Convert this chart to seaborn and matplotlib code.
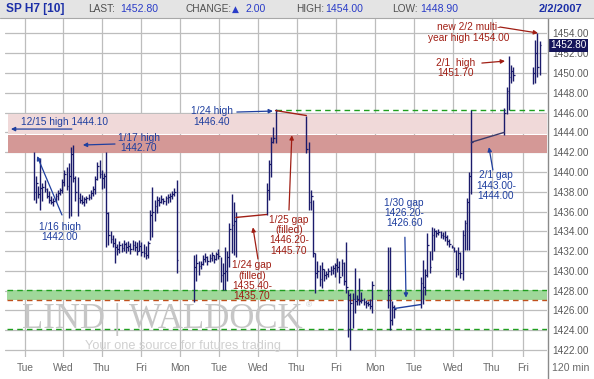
import numpy as np
import pandas as pd
import matplotlib
matplotlib.use("Agg")
import matplotlib.pyplot as plt
import matplotlib.transforms as mtransforms
from matplotlib.patches import Rectangle
from matplotlib.lines import Line2D
import seaborn as sns

# ---- data ----------------------------------------------------------------
# bars sit in equal time slots; idle_slots = empty slots before each run
idle_slots = [13, 7, 13, 13, 6, 11, 14, 8]
run_sizes = [66, 20, 5, 31, 4, 24, 5, 4]

highs = [
    # run 1 (1/16 - 1/19)
    1442.0, 1439.6, 1438.6, 1441.4, 1438.9, 1439.2, 1438.4, 1438.1, 1437.6, 1437.4,
    1437.9, 1438.2, 1438.4, 1439.3, 1440.2, 1440.5, 1440.9, 1442.5, 1442.7, 1439.6,
    1439.5, 1437.9, 1437.7, 1437.5, 1437.6, 1437.8, 1438.2, 1438.6, 1439.6, 1441.0,
    1441.2, 1440.2, 1439.9, 1442.0, 1436.0, 1434.0, 1433.6, 1433.3, 1432.7, 1433.0,
    1432.8, 1433.1, 1432.9, 1433.0, 1432.8, 1433.1, 1433.0, 1432.9, 1433.1, 1432.9,
    1432.7, 1432.5, 1433.0, 1436.2, 1438.5, 1437.2, 1437.6, 1437.5, 1437.7, 1437.4,
    1437.6, 1437.8, 1437.9, 1438.1, 1438.4, 1439.2,
    # run 2
    1431.6, 1431.7, 1431.0, 1431.0, 1431.6, 1431.8, 1431.5, 1431.7, 1431.9, 1431.6,
    1431.9, 1432.2, 1431.4, 1430.8, 1432.4, 1432.0, 1434.8, 1437.8, 1437.0, 1435.9,
    # run 3
    1438.9, 1441.2, 1443.5, 1444.5, 1446.4,
    # run 4
    1445.7, 1443.0, 1438.2, 1437.2, 1431.8, 1431.0, 1430.6, 1430.9, 1430.2, 1430.0,
    1430.3, 1430.5, 1430.6, 1430.8, 1431.3, 1431.0, 1431.2, 1430.9, 1432.9, 1428.1,
    1427.8, 1427.8, 1430.3, 1427.6, 1429.3, 1427.9, 1427.3, 1427.1, 1427.0, 1427.2,
    1429.0,
    # run 5
    1432.4, 1432.4, 1427.0, 1426.6,
    # run 6
    1429.4, 1431.1, 1430.2, 1433.8, 1432.0, 1434.4, 1434.3, 1434.1, 1434.2, 1434.0,
    1433.9, 1434.0, 1433.6, 1433.2, 1432.6, 1432.4, 1432.1, 1432.4, 1431.9, 1434.1,
    1435.1, 1437.4, 1440.0, 1446.3,
    # run 7
    1446.5, 1448.6, 1451.7, 1450.8, 1450.6,
    # run 8
    1450.6, 1453.3, 1454.0, 1453.2,
]

lows = [
    1437.2, 1436.9, 1437.4, 1436.2, 1437.1, 1438.0, 1437.4, 1436.9, 1436.8, 1436.6,
    1437.0, 1437.2, 1437.7, 1437.9, 1438.6, 1438.2, 1435.3, 1435.5, 1439.0, 1437.1,
    1435.5, 1436.9, 1436.8, 1436.6, 1436.9, 1437.2, 1437.3, 1437.6, 1437.8, 1439.2,
    1439.4, 1438.3, 1438.4, 1432.4, 1432.6, 1432.8, 1432.4, 1430.8, 1431.6, 1431.8,
    1431.9, 1432.0, 1431.8, 1432.0, 1431.7, 1432.1, 1432.0, 1431.6, 1432.0, 1431.5,
    1431.4, 1431.2, 1431.3, 1433.1, 1433.4, 1435.0, 1435.8, 1436.6, 1436.9, 1436.8,
    1436.7, 1436.9, 1437.0, 1437.3, 1437.6, 1429.8,
    1426.9, 1429.0, 1429.6, 1430.2, 1430.6, 1430.9, 1430.6, 1430.9, 1431.0, 1430.8,
    1431.1, 1431.2, 1428.9, 1428.1, 1428.1, 1429.0, 1430.4, 1431.8, 1431.6, 1431.4,
    1435.6, 1437.2, 1439.5, 1442.9, 1442.9,
    1441.9, 1436.2, 1436.2, 1431.4, 1427.8, 1429.3, 1428.5, 1428.3, 1429.0, 1429.2,
    1429.4, 1429.6, 1429.7, 1429.4, 1429.9, 1428.8, 1429.5, 1428.6, 1427.8, 1423.3,
    1422.0, 1424.2, 1425.7, 1426.6, 1426.6, 1426.8, 1426.6, 1426.3, 1426.5, 1426.2,
    1425.7,
    1426.3, 1424.0, 1424.5, 1425.2,
    1426.3, 1426.7, 1427.6, 1429.4, 1429.8, 1431.1, 1432.0, 1433.4, 1433.6, 1433.3,
    1433.2, 1433.0, 1432.6, 1432.4, 1432.3, 1431.9, 1429.4, 1429.6, 1429.3, 1429.1,
    1432.1, 1432.1, 1432.1, 1437.8,
    1443.7, 1445.9, 1446.3, 1449.0, 1449.2,
    1448.9, 1449.0, 1449.6, 1449.8,
]

closes = [
    1438.0, 1438.9, 1437.8, 1438.4, 1438.5, 1438.3, 1437.6, 1437.2, 1437.0, 1437.1,
    1437.6, 1437.9, 1438.2, 1439.0, 1439.8, 1438.6, 1439.6, 1441.8, 1439.4, 1438.0,
    1437.4, 1437.2, 1437.0, 1437.3, 1437.4, 1437.5, 1437.9, 1438.3, 1439.3, 1440.6,
    1439.8, 1439.4, 1439.6, 1435.8, 1433.6, 1433.2, 1432.8, 1432.4, 1432.2, 1432.6,
    1432.3, 1432.7, 1432.4, 1432.5, 1432.2, 1432.6, 1432.4, 1432.0, 1432.5, 1431.9,
    1431.8, 1431.6, 1432.8, 1435.6, 1436.0, 1436.6, 1437.2, 1437.0, 1437.3, 1437.1,
    1437.4, 1437.5, 1437.6, 1437.8, 1438.0, 1431.1,
    1430.4, 1430.8, 1430.5, 1430.7, 1431.2, 1431.4, 1431.0, 1431.3, 1431.6, 1431.2,
    1431.7, 1431.5, 1429.6, 1429.8, 1430.0, 1431.4, 1434.2, 1434.6, 1435.0, 1435.4,
    1438.2, 1440.8, 1443.0, 1443.4, 1446.2,
    1442.3, 1437.0, 1437.6, 1431.8, 1429.8, 1430.0, 1429.2, 1430.2, 1429.6, 1429.7,
    1430.0, 1430.1, 1430.3, 1430.6, 1430.4, 1429.4, 1430.8, 1429.0, 1428.4, 1427.6,
    1426.8, 1427.2, 1427.0, 1427.2, 1427.0, 1427.1, 1426.9, 1426.8, 1426.7, 1426.5,
    1428.6,
    1427.6, 1425.0, 1426.4, 1426.2,
    1428.8, 1428.4, 1429.6, 1432.6, 1430.4, 1433.6, 1434.0, 1433.8, 1433.9, 1433.6,
    1433.5, 1433.4, 1433.0, 1432.7, 1432.4, 1432.0, 1430.2, 1431.8, 1429.8, 1433.6,
    1434.8, 1437.0, 1439.6, 1443.0,
    1446.0, 1448.2, 1449.6, 1450.2, 1449.8,
    1450.0, 1452.0, 1450.6, 1452.8,
]

# day boundaries (in slots) and their labels
day_starts = [9.1, 26.4, 44.1, 61.8, 79.5, 97.3, 115.0, 132.7, 150.5,
              168.2, 185.9, 203.6, 221.4, 235.5]
day_labels = ["Tue", "Wed", "Thu", "Fri", "Mon", "Tue", "Wed", "Thu", "Fri",
              "Mon", "Tue", "Wed", "Thu", "Fri"]

# opening gaps: after which run, from price, to price
gap_after_run = [1, 2, 4, 5]
gap_from = [1435.40, 1446.20, 1426.20, 1443.00]
gap_to = [1435.70, 1445.70, 1426.60, 1444.00]

# support / resistance zones
zone_light = (1443.85, 1445.85)
zone_dark = (1441.90, 1443.75)
zone_green = (1427.10, 1428.10)
level_high_0124 = 1446.25
level_low = 1424.10

price_ticks = np.arange(1422, 1455, 2)
last_price = 1452.80

# ---- build the slot index --------------------------------------------------
slots, run_first, run_last = [], [], []
pos = 0
for idle, n in zip(idle_slots, run_sizes):
    pos += idle
    run_first.append(pos)
    slots.extend(range(pos, pos + n))
    pos += n
    run_last.append(pos - 1)

bars = pd.DataFrame({"slot": slots, "high": highs, "low": lows, "close": closes})

# ---- style ----------------------------------------------------------------
sns.set_theme(style="white")
plt.rcParams["font.family"] = ["Liberation Sans", "DejaVu Sans"]

W, H = 594, 379
fig = plt.figure(figsize=(W / 100, H / 100), dpi=100)
ax = fig.add_axes([5 / W, (H - 357) / H, 542 / W, (357 - 19) / H])
ax.set_xlim(0, 246.4)
ax.set_ylim(1421.3, 1455.45)

navy = "#1b1b6b"
blue = "#1f3f9f"
red = "#a01e14"
green = "#1f9f1f"
grid_c = "#bdbdbd"

# grid
for d in day_starts:
    ax.axvline(d, color=grid_c, lw=0.9, zorder=0)
for p in price_ticks:
    ax.axhline(p, color=grid_c, lw=0.9, zorder=0)

# zones
ax.axhspan(*zone_light, xmin=0.005, color="#f0d9d9", lw=0, zorder=0.5)
ax.axhspan(*zone_dark, xmin=0.005, color="#d49896", lw=0, zorder=0.5)
ax.axhspan(*zone_green, xmin=0.004, color="#9fd89a", lw=0, zorder=0.5)
ax.axhline(zone_green[1], xmin=0.004, color=green, lw=1, ls=(0, (4, 3)), zorder=0.6)
ax.axhline(zone_green[0], xmin=0.004, color="#c0501c", lw=1, ls=(0, (4, 3)), zorder=0.6)
ax.axhline(level_low, xmin=0.004, color=green, lw=1, ls=(0, (4, 3)), zorder=0.6)
x_high_0124 = bars.loc[bars["high"].eq(1446.4), "slot"].iloc[0]
ax.hlines(level_high_0124, x_high_0124, 246.4, color=green, lw=1,
          ls=(0, (4, 3)), zorder=0.6)

# watermark
ax.text(22 / W, 1 - 320 / H, "LIND | WALDOCK", transform=fig.transFigure,
        family="Liberation Serif", fontsize=25, color="#c6c6c6",
        ha="left", va="center", zorder=1, clip_on=False)
ax.text(306 / W, 1 - 306 / H, "®", transform=fig.transFigure,
        fontsize=6, color="#c6c6c6", ha="left", va="center", zorder=1)
ax.text(85 / W, 1 - 346 / H, "Your one source for futures trading",
        transform=fig.transFigure, fontsize=9.2, color="#d0d0d0",
        ha="left", va="center", zorder=1)

# OHLC bars
ax.vlines(bars["slot"], bars["low"], bars["high"], color=navy, lw=1.0, zorder=3)
ax.hlines(bars["close"], bars["slot"], bars["slot"] + 0.8, color=navy, lw=0.9, zorder=3)

# gap connectors
gap_colors = [red, red, blue, "#3a3a6a"]
for r, p0, p1, c in zip(gap_after_run, gap_from, gap_to, gap_colors):
    sns.lineplot(x=[run_last[r], run_first[r + 1]], y=[p0, p1], ax=ax,
                 color=c, lw=1.0, zorder=4)

# annotations: text, colour, text centre, arrow tail, arrow head
notes = [
    ("12/15 high 1444.10", blue, (27.0, 1445.05), (30.4, 1444.33), (2.7, 1444.33)),
    ("1/17 high\n1442.70", blue, (60.9, 1442.9), (50.0, 1442.82), (35.4, 1442.72)),
    ("1/16 high\n1442.00", blue, (25.0, 1433.95), (25.9, 1435.65), (14.6, 1441.6)),
    ("1/24 high\n1446.40", blue, (94.1, 1445.6), (105.4, 1446.05), (121.8, 1446.15)),
    ("1/25 gap\n(filled)\n1446.20-\n1445.70", red, (129.1, 1433.6), (129.1, 1436.15), (130.4, 1443.7)),
    ("1/24 gap\n(filled)\n1435.40-\n1435.70", red, (112.3, 1429.0), (115.0, 1431.2), (112.7, 1434.4)),
    ("1/30 gap\n1426.20-\n1426.60", blue, (181.4, 1435.85), (181.8, 1433.4), (182.3, 1427.3)),
    ("2/1 gap\n1443.00-\n1444.00", blue, (223.2, 1438.6), (221.8, 1440.2), (220.0, 1442.5)),
    ("2/1  high\n1451.70", red, (205.0, 1450.5), (216.8, 1451.0), (227.3, 1451.2)),
    ("new 2/2 multi-\nyear high 1454.00", red, (210.9, 1454.1), (225.0, 1454.64), (242.3, 1454.03)),
]
for txt, c, xy, tail, head in notes:
    ax.text(*xy, txt, color=c, fontsize=7.3, ha="center", va="center",
            linespacing=1.05, zorder=5)
    ax.annotate("", xy=head, xytext=tail,
                arrowprops=dict(arrowstyle="-|>", color=c, lw=0.9,
                                mutation_scale=6, shrinkA=0, shrinkB=0),
                zorder=5)

# axes and ticks
for s in ["top", "left", "bottom", "right"]:
    ax.spines[s].set_visible(False)
ax.yaxis.tick_right()
ax.set_yticks(price_ticks)
ax.set_yticklabels([f"{p:.2f}" for p in price_ticks])
ax.set_xticks(day_starts)
ax.set_xticklabels(day_labels)
ax.tick_params(axis="y", length=0, pad=4, labelsize=7.2, labelcolor="#5a5a5a")
ax.tick_params(axis="x", length=0, pad=4, labelsize=7.3, labelcolor="#6a6a6a")
ax.grid(False)

# last price box
trans = mtransforms.blended_transform_factory(ax.transAxes, ax.transData)
ax.text(1.0 + 3 / 542, last_price, f"{last_price:.2f}", transform=trans,
        color="white", fontsize=7.2, ha="left", va="center", zorder=6,
        bbox=dict(boxstyle="square,pad=0.15", fc="#15155a", ec="none"))

# right axis rule and header
fig.add_artist(Line2D([548 / W, 548 / W], [0, 1 - 18 / H], color="#8a8a8a", lw=1))
fig.patches.append(Rectangle((0, 1 - 18 / H), 1, 18 / H, transform=fig.transFigure,
                             fc="#e4e4e4", ec="none", zorder=0))
fig.add_artist(Line2D([0, 1], [1 - 18 / H, 1 - 18 / H], color="#a8a8a8", lw=0.8))

hy = 1 - 9 / H
hdr_blue = "#1c2fa8"
val_blue = "#2a3cc8"
fig.text(6 / W, hy, "SP H7 [10]", color=hdr_blue, fontsize=8.6, weight="bold", va="center")
fig.text(88 / W, hy, "LAST:", color="#505050", fontsize=7.3, va="center")
fig.text(120 / W, hy, "1452.80", color=val_blue, fontsize=7.6, va="center")
fig.text(185 / W, hy, "CHANGE:", color="#505050", fontsize=7.3, va="center")
fig.text(232 / W, hy, "▲", color=val_blue, fontsize=6.5, va="center",
         family=["DejaVu Sans"])
fig.text(246 / W, hy, "2.00", color=val_blue, fontsize=7.6, va="center")
fig.text(296 / W, hy, "HIGH:", color="#505050", fontsize=7.3, va="center")
fig.text(325 / W, hy, "1454.00", color=val_blue, fontsize=7.6, va="center")
fig.text(392 / W, hy, "LOW:", color="#505050", fontsize=7.3, va="center")
fig.text(420 / W, hy, "1448.90", color=val_blue, fontsize=7.6, va="center")
fig.text(582 / W, hy, "2/2/2007", color=hdr_blue, fontsize=8.0, weight="bold",
         va="center", ha="right")
fig.text(552 / W, 1 - 368 / H, "120 min", color="#6a6a6a", fontsize=7.6, va="center")

fig.savefig("out.png", dpi=100)
